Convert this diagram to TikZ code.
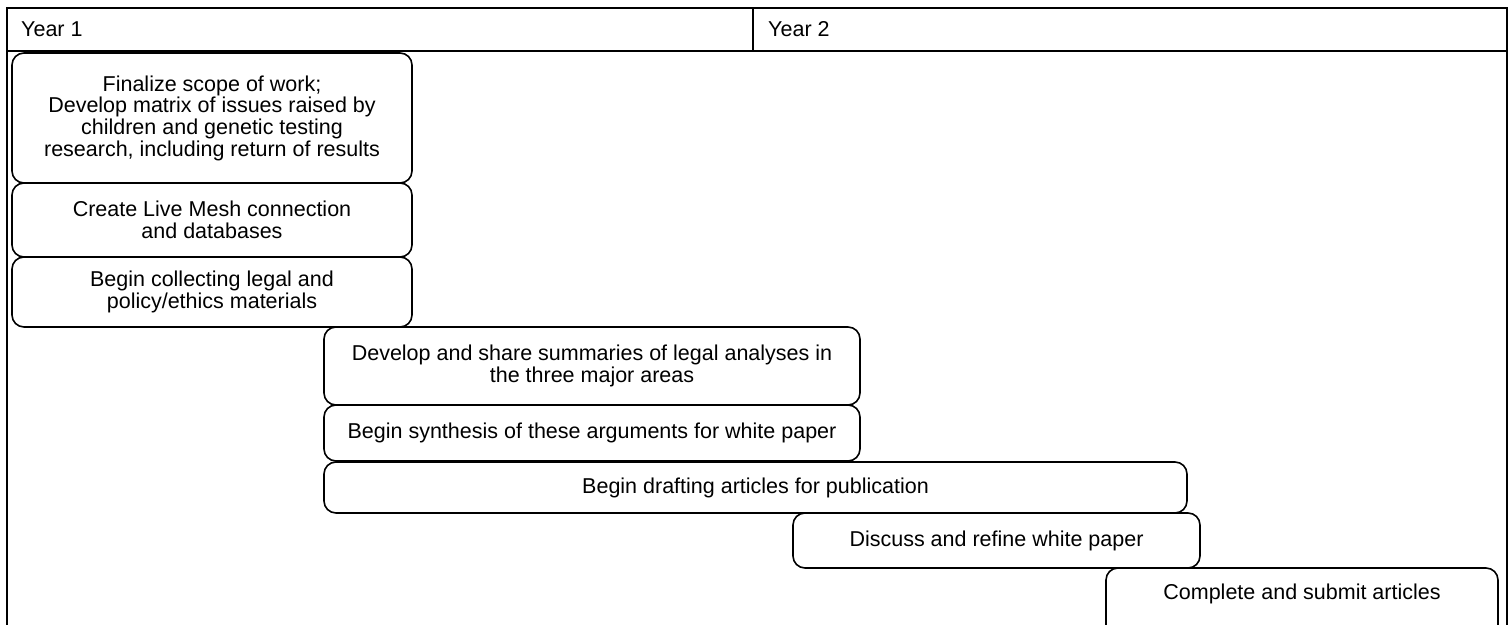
\documentclass[tikz,border=0pt]{standalone}
\usepackage{fontspec}
\setmainfont{Liberation Sans}
\begin{document}
\begin{tikzpicture}[x=1pt,y=-1pt,
  frame/.style={line width=1.3pt},
  task/.style={draw, line width=1.6pt, rounded corners=12pt, align=center, inner sep=0pt,
    font=\fontsize{21.5}{21.7}\selectfont},
  tasktext/.style={align=center, inner sep=0pt, font=\fontsize{21.5}{21.7}\selectfont},
  head/.style={anchor=base west, inner sep=0pt, font=\fontsize{21.5}{21.7}\selectfont}]
\useasboundingbox (0,0) rectangle (1510,624);
\clip (0,0) rectangle (1510,624);
\fill[white] (0,0) rectangle (1510,624);
% frame
\coordinate (tl) at (7,8);
\coordinate (tr) at (1507,8);
\coordinate (bl) at (7,640);
\coordinate (br) at (1507,640);
\coordinate (hl) at (7,51);
\coordinate (hr) at (1507,51);
\coordinate (dt) at (753,8);
\coordinate (db) at (753,51);
\draw[frame] (bl) -- (tl) -- (tr) -- (br);
\draw[frame] (hl) -- (hr);
\draw[frame] (dt) -- (db);
\node[head] (y1) at (21,36) {Year 1};
\node[head] (y2) at (768,36) {Year 2};
% tasks
\node[task, minimum width=400pt, minimum height=130pt] (t1) at (212,118)
  {Finalize scope of work;\\Develop matrix of issues raised by\\children and genetic testing\\research, including return of results};
\node[task, minimum width=400pt, minimum height=74pt] (t2) at (212,220)
  {Create Live Mesh connection\\and databases};
\node[task, minimum width=400pt, minimum height=70pt] (t3) at (212,292)
  {Begin collecting legal and\\policy/ethics materials};
\node[task, minimum width=536pt, minimum height=78pt] (t4) at (592,366)
  {Develop and share summaries of legal analyses in\\the three major areas};
\node[task, minimum width=536pt, minimum height=56pt] (t5) at (592,433)
  {Begin synthesis of these arguments for white paper};
\node[task, minimum width=863pt, minimum height=51pt] (t6) at (755.5,487.5)
  {Begin drafting articles for publication};
\node[task, minimum width=407pt, minimum height=55pt] (t7) at (996.5,540.5)
  {Discuss and refine white paper};
\node[task, minimum width=392pt, minimum height=72pt] (t8) at (1302,604) {};
\node[tasktext] (t8text) at (1302,594) {Complete and submit articles};
\end{tikzpicture}
\end{document}
